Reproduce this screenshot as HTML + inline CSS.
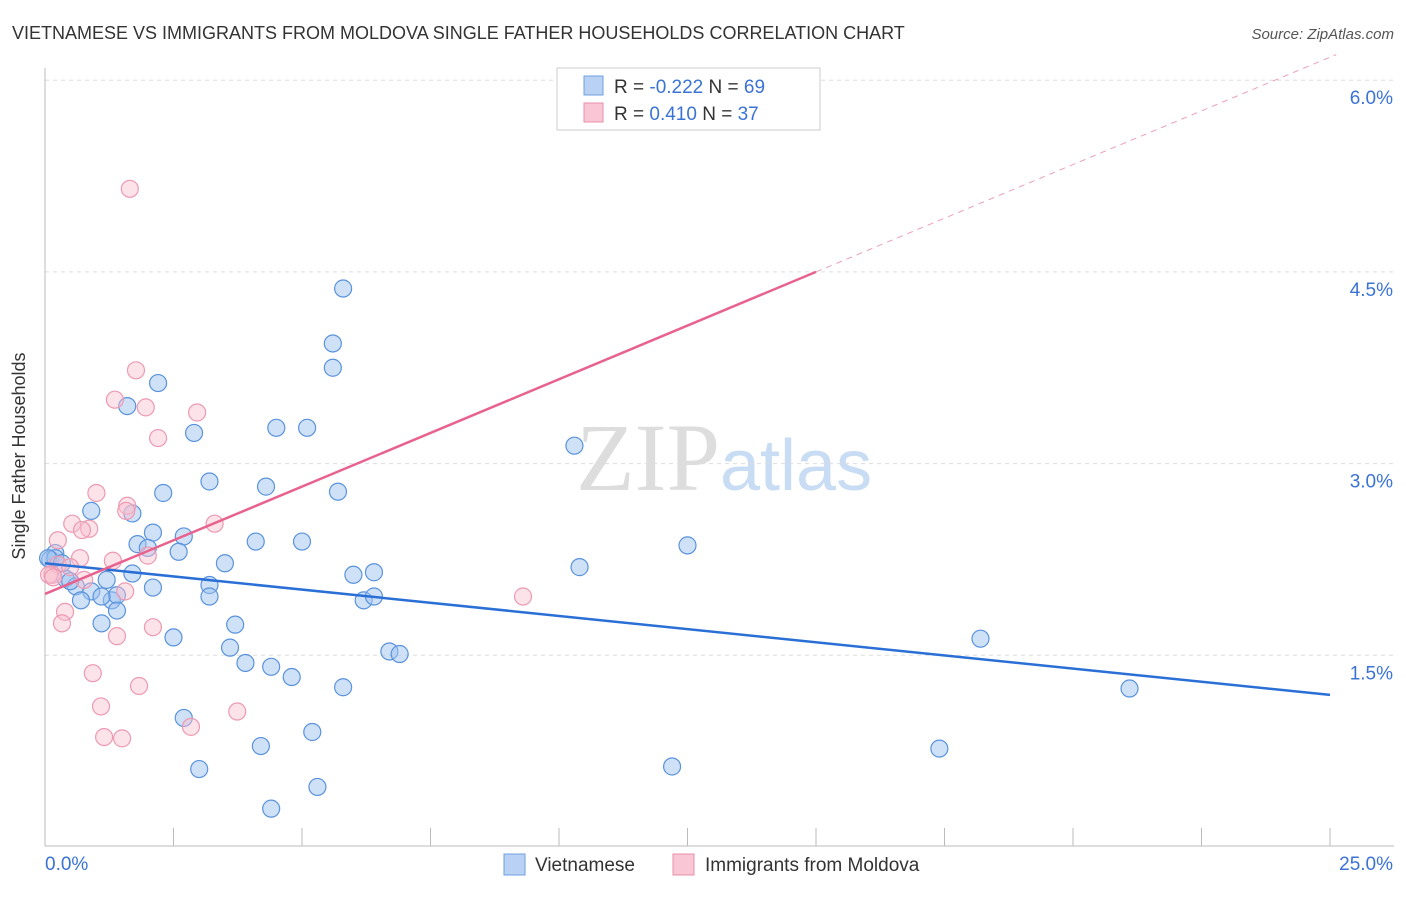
<!DOCTYPE html>
<html><head><meta charset="utf-8"><style>
body{margin:0;background:#fff;font-family:"Liberation Sans",sans-serif;}
</style></head><body>
<svg width="1406" height="892" xmlns="http://www.w3.org/2000/svg" font-family="Liberation Sans, sans-serif">
<text x="12" y="39" font-size="18" fill="#333">VIETNAMESE VS IMMIGRANTS FROM MOLDOVA SINGLE FATHER HOUSEHOLDS CORRELATION CHART</text>
<text x="1394" y="39" font-size="15" fill="#555" font-style="italic" text-anchor="end">Source: ZipAtlas.com</text>
<text x="720" y="490" font-size="96" fill="#ddd" text-anchor="end" font-family="Liberation Serif, serif">ZIP</text>
<text x="720" y="490" font-size="72" fill="#c8dcf3">atlas</text>
<g id="grid"></g>
<line x1="45" y1="68" x2="45" y2="846" stroke="#bbb"/>
<line x1="45" y1="846" x2="1394" y2="846" stroke="#bbb"/>
<g id="ticks"></g>
<text x="25" y="456" font-size="18" fill="#333" text-anchor="middle" transform="rotate(-90 25 456)">Single Father Households</text>
<g id="pts"></g>
<g id="lines"></g>
<g>
<rect x="557" y="68" width="263" height="62" fill="#fff" stroke="#ccc"/>
<rect x="584" y="76" width="19" height="19" fill="#b9d1f3" stroke="#6f9fe0"/>
<rect x="584" y="103" width="19" height="19" fill="#f8c6d4" stroke="#ea8fab"/>
<text x="614" y="93" font-size="19" fill="#333">R = <tspan fill="#3b73d4">-0.222</tspan>   N = <tspan fill="#3b73d4">69</tspan></text>
<text x="614" y="120" font-size="19" fill="#333">R =  <tspan fill="#3b73d4"> 0.410</tspan>   N = <tspan fill="#3b73d4">37</tspan></text>
</g>
<g>
<rect x="504" y="854" width="21" height="21" fill="#b9d1f3" stroke="#6f9fe0"/>
<text x="535" y="871" font-size="19" fill="#333">Vietnamese</text>
<rect x="673" y="854" width="21" height="21" fill="#f8c6d4" stroke="#ea8fab"/>
<text x="705" y="871" font-size="19" fill="#333">Immigrants from Moldova</text>
</g>
</svg>
<script>
const xTicks=[0,25];
const yTicks=[1.5,3.0,4.5,6.0];
const blueX=[5.8,5.6,5.6,2.2,1.6,2.9,4.5,5.1,10.3,3.2,4.3,5.7,2.3,0.9,1.7,2.1,2.7,4.1,5.0,12.5,1.8,2.0,2.6,0.2,0.1,0.2,3.5,10.4,1.7,6.0,6.4,1.2,0.4,0.6,3.2,2.1,0.9,3.2,6.2,6.4,0.7,1.3,1.4,1.1,1.4,1.1,3.7,18.2,2.5,3.6,6.7,6.9,3.9,4.4,4.8,5.8,21.1,2.7,5.2,4.2,17.4,3.0,12.2,5.3,4.4,0.06,0.33,0.49];
const blueY=[4.37,3.94,3.75,3.63,3.45,3.24,3.28,3.28,3.14,2.86,2.82,2.78,2.77,2.63,2.61,2.46,2.43,2.39,2.39,2.36,2.37,2.34,2.31,2.30,2.25,2.26,2.22,2.19,2.14,2.13,2.15,2.09,2.10,2.04,2.05,2.03,2.00,1.96,1.93,1.96,1.93,1.93,1.97,1.96,1.85,1.75,1.74,1.63,1.64,1.56,1.53,1.51,1.44,1.41,1.33,1.25,1.24,1.01,0.90,0.79,0.77,0.61,0.63,0.47,0.30,2.26,2.22,2.08];
const pinkX=[13.7,1.65,1.77,1.36,1.96,2.96,2.2,1.0,1.6,3.3,0.53,0.86,0.72,0.25,1.58,2.0,0.68,1.32,0.25,0.49,0.14,0.76,0.08,1.56,9.3,0.39,0.33,2.1,1.4,0.93,1.83,1.09,3.74,2.84,1.15,1.5,0.16];
const pinkY=[5.99,5.15,3.73,3.50,3.44,3.40,3.20,2.77,2.67,2.53,2.53,2.49,2.48,2.40,2.63,2.28,2.26,2.24,2.21,2.19,2.13,2.09,2.13,2.00,1.96,1.84,1.75,1.72,1.65,1.36,1.26,1.10,1.06,0.94,0.86,0.85,2.11];
const blueFit=[2.22,1.19];
const pinkFit=[1.98,4.50];
const pinkFitEndX=15;
const NS="http://www.w3.org/2000/svg";
const X=v=>45+v/25*1285, Y=v=>847-v/1.5*191.7;
function mk(t,a,p){const e=document.createElementNS(NS,t);for(const k in a)e.setAttribute(k,a[k]);p.appendChild(e);return e;}
const grid=document.getElementById('grid'),ticks=document.getElementById('ticks');
yTicks.forEach(v=>{
 const l=mk('line',{x1:45,x2:1394,y1:Y(v),y2:Y(v),stroke:'#ddd','stroke-dasharray':'4,4'},grid);
 
 
 const t=mk('text',{x:1393,y:Y(v)+24,'font-size':19,fill:'#3b73d4','text-anchor':'end'},ticks);
 t.textContent=v.toFixed(1)+'%';
 
 
});
for(let i=1;i<=10;i++){const x=45+i*128.5;const l=mk('line',{x1:x,x2:x,y1:828,y2:846,stroke:'#bbb'},ticks);
 
 }
xTicks.forEach((v,i)=>{const t=mk('text',{x:i?1393:45,y:870,'font-size':19,fill:'#3b73d4','text-anchor':i?'end':'start'},ticks);
 t.textContent=v.toFixed(1)+'%';
 
 });
const pts=document.getElementById('pts');
blueX.forEach((x,i)=>{const c=mk('circle',{cx:X(x),cy:Y(blueY[i]),r:8.5,fill:'rgba(160,195,240,0.5)',stroke:'#5a93dc','stroke-width':1.2},pts);
 
 });
pinkX.forEach((x,i)=>{const c=mk('circle',{cx:X(x),cy:Y(pinkY[i]),r:8.5,fill:'rgba(248,190,206,0.45)',stroke:'#ec9ab3','stroke-width':1.2},pts);
 
 });
const lines=document.getElementById('lines');
let l=mk('line',{x1:X(0),y1:Y(blueFit[0]),x2:X(25),y2:Y(blueFit[1]),stroke:'#2a6fd6','stroke-width':2.5},lines);


const ps=(pinkFit[1]-pinkFit[0])/pinkFitEndX;
l=mk('line',{x1:X(0),y1:Y(pinkFit[0]),x2:X(pinkFitEndX),y2:Y(pinkFit[1]),stroke:'#e8628e','stroke-width':2.5},lines);


const xe=(6.2-pinkFit[0])/ps;
l=mk('line',{x1:X(pinkFitEndX),y1:Y(pinkFit[1]),x2:X(xe),y2:Y(6.2),stroke:'#eca0b8','stroke-width':1,'stroke-dasharray':'6,5'},lines);


</script>
</body></html>
